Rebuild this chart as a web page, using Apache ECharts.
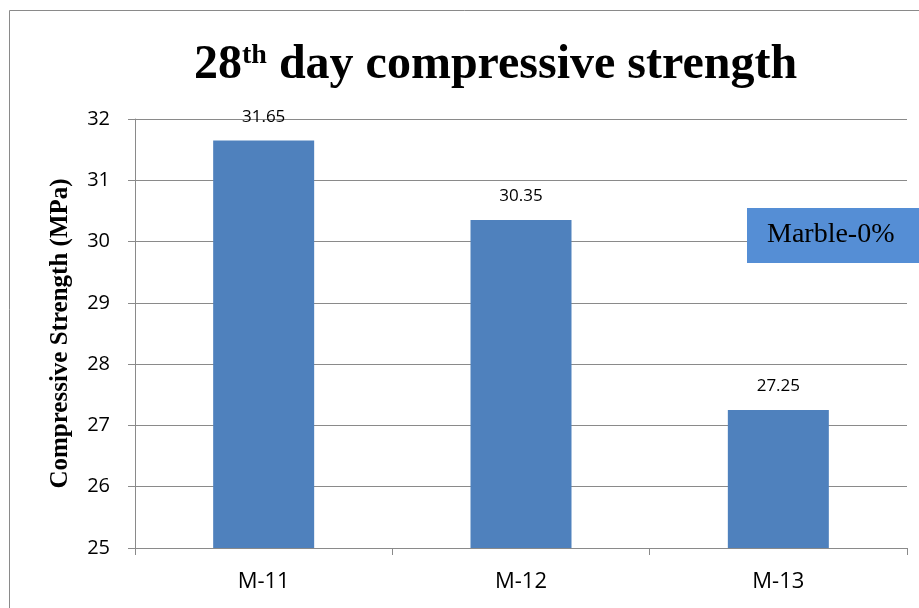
<!DOCTYPE html>
<html>
<head>
<meta charset="utf-8">
<script src="https://cdn.jsdelivr.net/npm/echarts@6/dist/echarts.min.js"></script>
<style>html,body{margin:0;padding:0;background:#fff;}#c{width:919px;height:608px;}</style>
</head>
<body>
<div id="c"></div>
<script>
var categories = ['M-11', 'M-12', 'M-13'];
var strength = [31.65, 30.35, 27.25];
var seriesName = 'Marble-0%';
var yMin = 25, yMax = 32, yStep = 1;

var chart = echarts.init(document.getElementById('c'));
var serif = '"Liberation Serif", "Times New Roman", serif';
var sans = '"Open Sans", "Liberation Sans", sans-serif';
var axisGray = '#8a8a8a';

chart.setOption({
  backgroundColor: '#ffffff',
  animation: false,
  graphic: [{
    type: 'rect',
    shape: { x: 9.5, y: 10.5, width: 1000, height: 700 },
    style: { fill: 'none', stroke: '#8a8a8a', lineWidth: 1 },
    z: -1
  }],
  title: {
    text: '{a|28}{s|th}{a| day compressive strength}',
    left: 189,
    top: 35,
    textStyle: {
      rich: {
        a: { fontFamily: serif, fontWeight: 'bold', fontSize: 48, color: '#000', lineHeight: 52 },
        s: { fontFamily: serif, fontWeight: 'bold', fontSize: 28, color: '#000', lineHeight: 52, padding: [0, 0, 20, 0] }
      }
    }
  },
  legend: {
    data: [seriesName],
    left: 747,
    top: 208,
    backgroundColor: '#558ed5',
    padding: [13, 40, 14, 15],
    icon: 'none',
    itemWidth: 0,
    itemHeight: 0,
    textStyle: { fontFamily: serif, fontSize: 28, color: '#000' }
  },
  grid: { left: 135, right: 12, top: 119, bottom: 60 },
  xAxis: {
    type: 'category',
    data: categories,
    axisLine: { lineStyle: { color: axisGray, width: 1 } },
    axisTick: { show: true, length: 7, lineStyle: { color: axisGray } },
    axisLabel: { margin: 23, fontFamily: sans, fontSize: 22, color: '#000' }
  },
  yAxis: {
    type: 'value',
    min: yMin, max: yMax, interval: yStep,
    name: 'Compressive Strength (MPa)',
    nameLocation: 'middle',
    nameGap: 62,
    nameTextStyle: { fontFamily: serif, fontWeight: 'bold', fontSize: 25, color: '#000' },
    axisLine: { show: true, lineStyle: { color: axisGray, width: 1 } },
    axisTick: { show: true, length: 7, lineStyle: { color: axisGray } },
    splitLine: { show: true, lineStyle: { color: axisGray, width: 1 } },
    axisLabel: { margin: 25, fontFamily: sans, fontSize: 20, color: '#000' }
  },
  series: [{
    name: seriesName,
    type: 'bar',
    data: strength,
    barWidth: 101,
    itemStyle: { color: '#4f81bd' },
    label: {
      show: true,
      position: 'top',
      distance: 15,
      fontFamily: sans,
      fontSize: 17,
      color: '#000',
      formatter: function (p) { return p.value.toFixed(2); }
    }
  }]
});
</script>
</body>
</html>
